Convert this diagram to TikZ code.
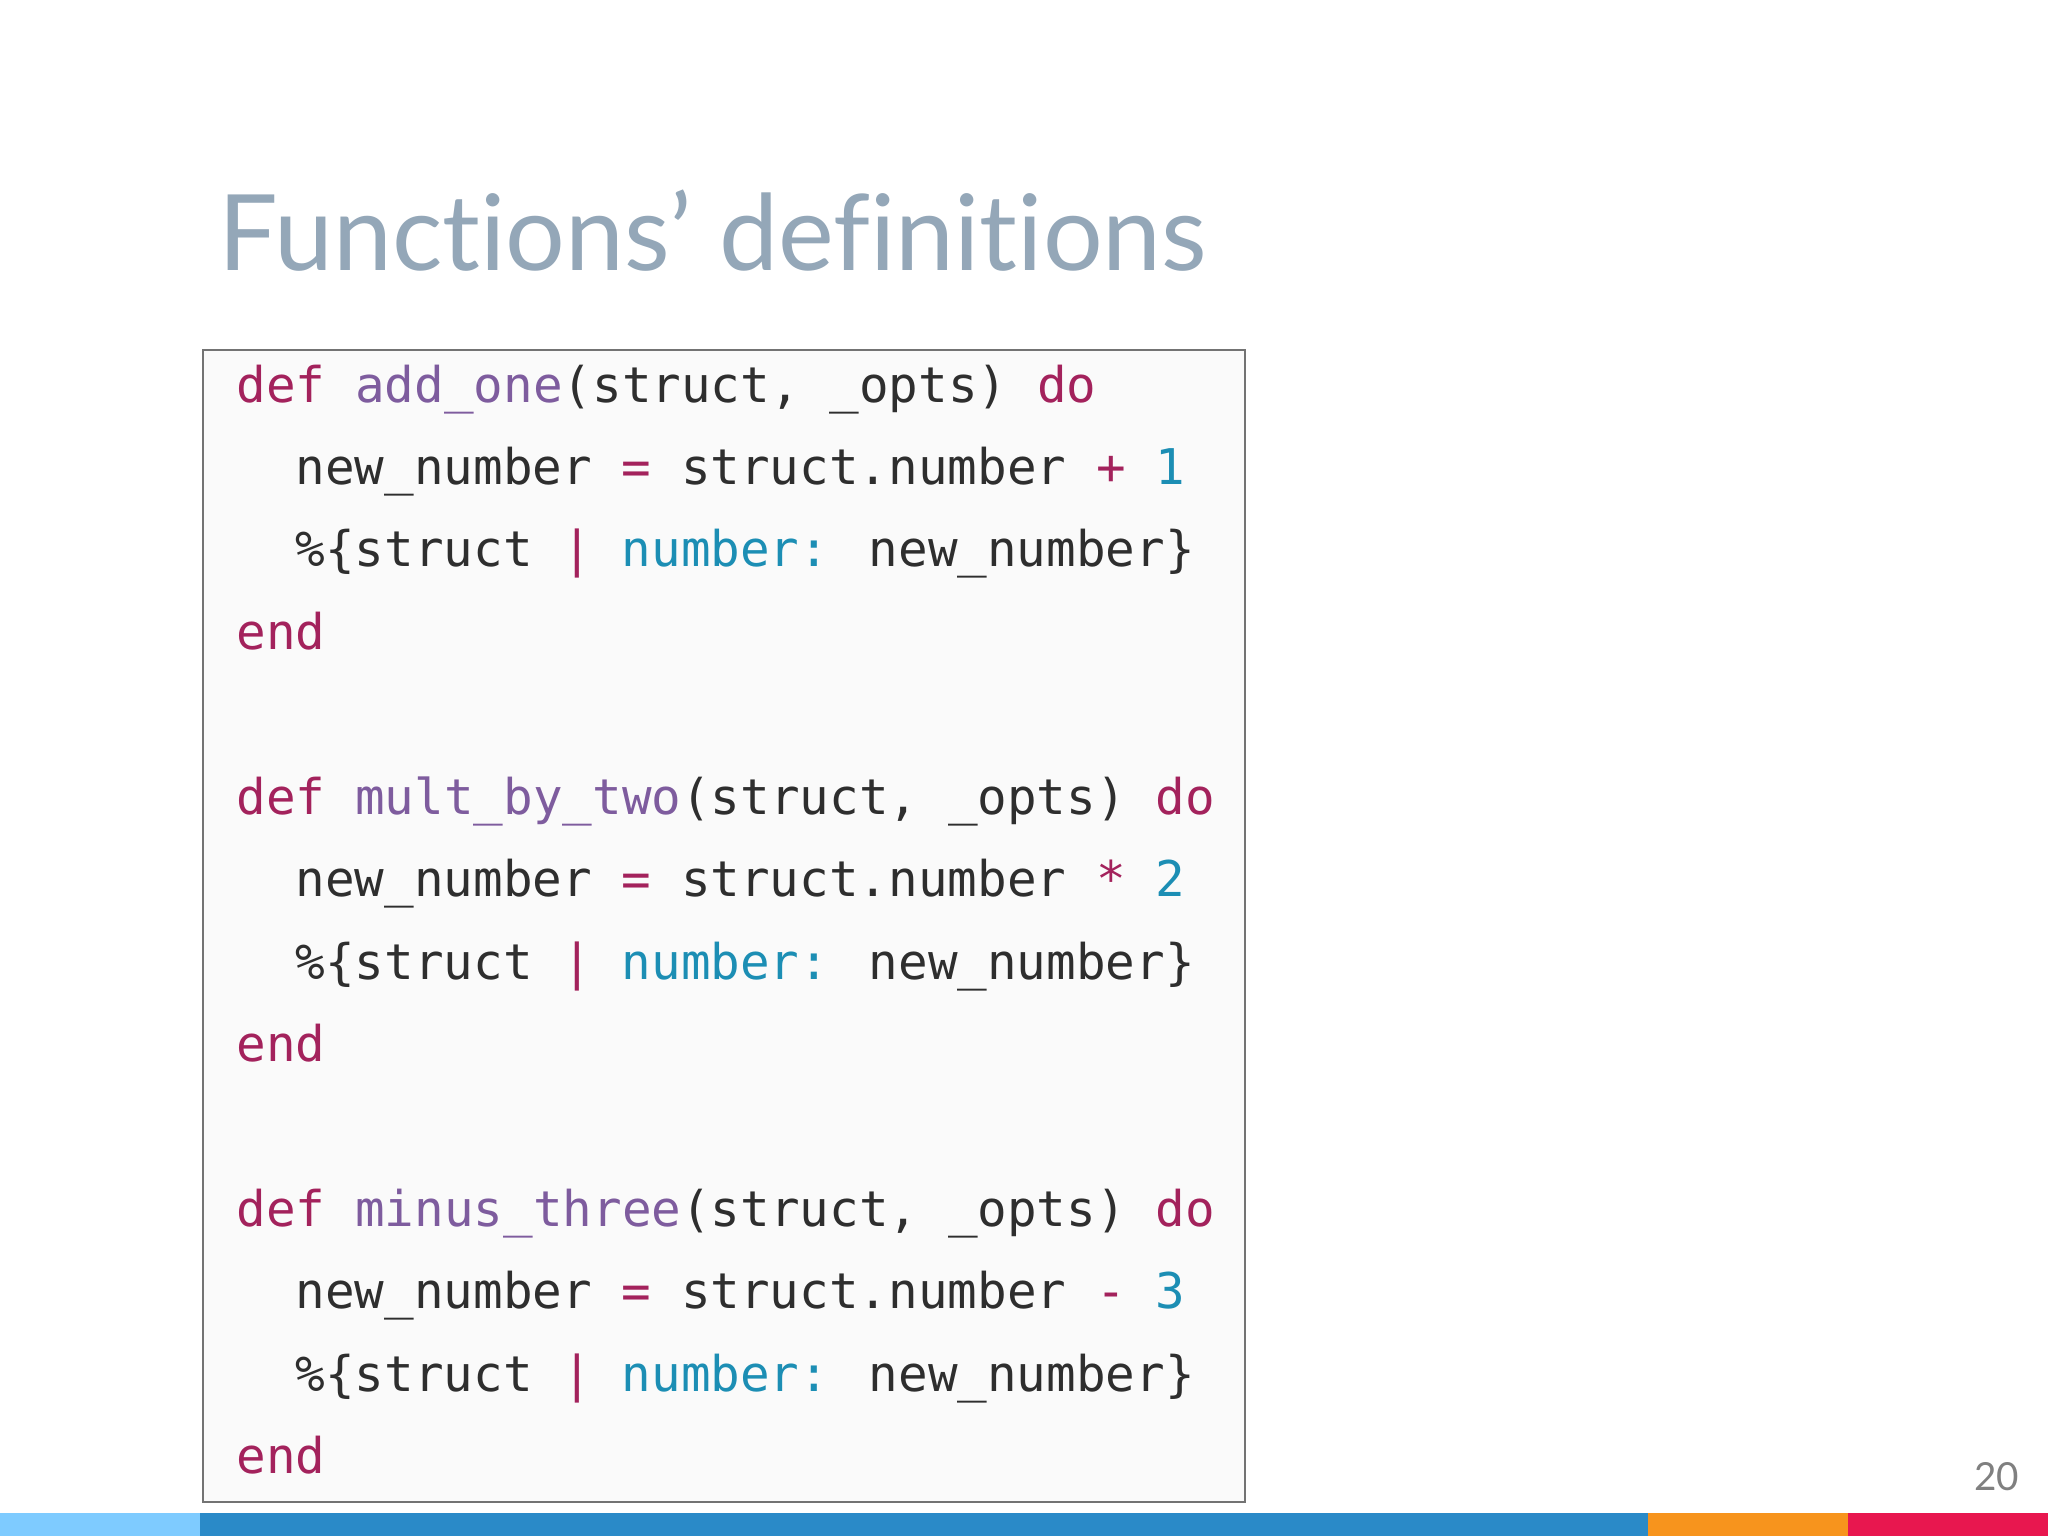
\documentclass[tikz,border=0pt]{standalone}
\usepackage{fontspec}
\setmainfont{Lato}[Ligatures=NoCommon]
\newfontfamily\codefont{DejaVu Sans Mono}
\definecolor{kw}{HTML}{A3225C}
\definecolor{fn}{HTML}{7E5C9E}
\definecolor{nm}{HTML}{1C8EB4}
\definecolor{tx}{HTML}{2E2E2E}
\definecolor{ttl}{HTML}{94A7B8}
\newcommand{\K}[1]{\textcolor{kw}{#1}}
\newcommand{\F}[1]{\textcolor{fn}{#1}}
\newcommand{\N}[1]{\textcolor{nm}{#1}}
\begin{document}
\begin{tikzpicture}[x=0.01cm,y=-0.01cm,
  codeline/.style={anchor=base west,inner sep=0pt,font=\codefont\fontsize{14}{14}\selectfont,text=tx}]
\useasboundingbox (0,0) rectangle (2048,1536);
\fill[white] (0,0) rectangle (2048,1536);
\node[anchor=base west,inner sep=0pt,text=ttl,font=\fontsize{30}{30}\selectfont] (title) at (218,270) {Functions’ definitions};
\draw[fill=black!2,draw=black!55,line width=0.6pt] (203,350) rectangle (1245,1502);
\node[codeline] (l1) at (236,402) {\K{def} \F{add\_one}(struct, \_opts) \K{do}};
\node[codeline] (l2) at (295,484) {new\_number \K{=} struct.number \K{+} \N{1}};
\node[codeline] (l3) at (295,566) {\%\{struct \K{|} \N{number:} new\_number\}};
\node[codeline] (l4) at (236,649) {\K{end}};
\node[codeline] (l5) at (236,814) {\K{def} \F{mult\_by\_two}(struct, \_opts) \K{do}};
\node[codeline] (l6) at (295,896) {new\_number \K{=} struct.number \K{*} \N{2}};
\node[codeline] (l7) at (295,979) {\%\{struct \K{|} \N{number:} new\_number\}};
\node[codeline] (l8) at (236,1061) {\K{end}};
\node[codeline] (l9) at (236,1226) {\K{def} \F{minus\_three}(struct, \_opts) \K{do}};
\node[codeline] (l10) at (295,1308) {new\_number \K{=} struct.number \K{-} \N{3}};
\node[codeline] (l11) at (295,1391) {\%\{struct \K{|} \N{number:} new\_number\}};
\node[codeline] (l12) at (236,1473) {\K{end}};
\node[anchor=base east,inner sep=0pt,text=black!50,font=\fontsize{11}{11}\selectfont] (pg) at (2020,1490) {20};
\fill[fill={rgb,255:red,126;green,203;blue,255}] (0,1513) rectangle (200,1536);
\fill[fill={rgb,255:red,42;green,138;blue,200}] (200,1513) rectangle (1648,1536);
\fill[fill={rgb,255:red,247;green,148;blue,29}] (1648,1513) rectangle (1848,1536);
\fill[fill={rgb,255:red,232;green,23;blue,79}] (1848,1513) rectangle (2048,1536);
\end{tikzpicture}
\end{document}
